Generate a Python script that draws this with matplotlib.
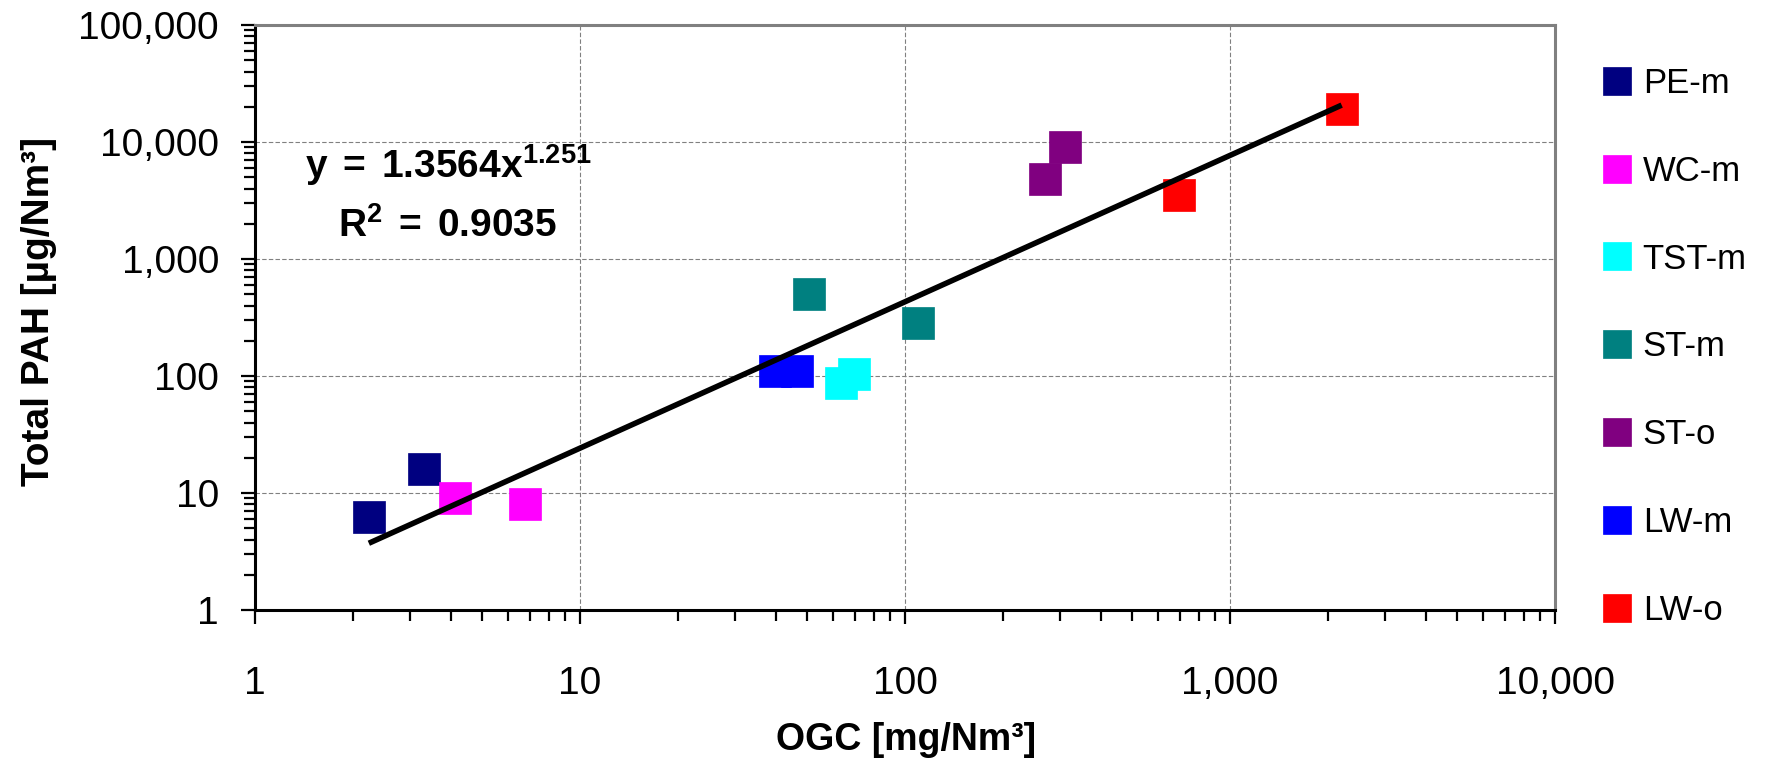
import numpy as np
import matplotlib
matplotlib.use("Agg")
import matplotlib.pyplot as plt
from matplotlib.ticker import FuncFormatter, LogLocator, NullFormatter

plt.rcParams['font.family'] = ['Liberation Sans', 'DejaVu Sans']
plt.rcParams['mathtext.fontset'] = 'custom'
plt.rcParams['mathtext.rm'] = 'Liberation Sans:bold'
plt.rcParams['mathtext.bf'] = 'Liberation Sans:bold'

# series (OGC mg/Nm3, total PAH ug/Nm3)
labels = ['PE-m', 'WC-m', 'TST-m', 'ST-m', 'ST-o', 'LW-m', 'LW-o']
colors = ['#000080', '#FF00FF', '#00FFFF', '#008080', '#800080', '#0000FF', '#FF0000']
ogc = [
    [2.24, 3.30],
    [4.13, 6.78],
    [63.7, 69.5],
    [50.8, 110.0],
    [270.0, 310.0],
    [39.7, 46.4],
    [697.0, 2206.0],
]
pah = [
    [6.2, 15.9],
    [9.1, 8.0],
    [87.0, 105.0],
    [500.0, 286.0],
    [4800.0, 9000.0],
    [111.0, 111.0],
    [3520.0, 19200.0],
]

# power trendline shown on the chart
fit_a = 1.3564
fit_b = 1.251
fit_r2 = 0.9035

fig = plt.figure(figsize=(17.77, 7.59), dpi=100)
ax = fig.add_axes([255/1777, 1 - 610/759, 1300/1777, 585/759])

for xs, ys, lab, col in zip(ogc, pah, labels, colors):
    ax.plot(xs, ys, ls='none', marker='s', ms=23, color=col,
            mec=col, mew=0.5, label=lab, zorder=3)

allx = np.concatenate([np.array(v) for v in ogc])
xt = np.logspace(np.log10(allx.min()), np.log10(allx.max()), 200)
ax.plot(xt, fit_a * xt ** fit_b, color='black', lw=4, zorder=4,
        solid_capstyle='butt')

ax.set_xscale('log')
ax.set_yscale('log')
ax.set_xlim(1, 10000)
ax.set_ylim(1, 100000)

fmt = FuncFormatter(lambda v, p: f'{v:,.0f}')
ax.xaxis.set_major_locator(LogLocator(base=10, numticks=10))
ax.yaxis.set_major_locator(LogLocator(base=10, numticks=10))
ax.xaxis.set_minor_locator(LogLocator(base=10, subs=np.arange(2, 10), numticks=20))
ax.yaxis.set_minor_locator(LogLocator(base=10, subs=np.arange(2, 10), numticks=20))
ax.xaxis.set_major_formatter(fmt)
ax.yaxis.set_major_formatter(fmt)
ax.xaxis.set_minor_formatter(NullFormatter())
ax.yaxis.set_minor_formatter(NullFormatter())

ax.tick_params(which='major', direction='out', length=10, width=1.6,
               labelsize=28, colors='black')
ax.tick_params(axis='x', which='major', pad=30)
ax.tick_params(axis='y', which='major', pad=16)
ax.tick_params(which='minor', direction='out', length=8, width=1.6)

ax.grid(True, which='major', color='#808080', lw=0.8, dashes=(4, 2))
ax.set_axisbelow(True)

for side in ['left', 'bottom']:
    ax.spines[side].set_linewidth(2.2)
    ax.spines[side].set_color('black')
for side in ['top', 'right']:
    ax.spines[side].set_linewidth(2.2)
    ax.spines[side].set_color('#808080')

fig.text(448/1777, 1 - 178/759, r'$\mathbf{y\:=\:1.3564x^{1.251}}$',
         fontsize=28, ha='center', va='baseline')
fig.text(448/1777, 1 - 237/759, r'$\mathbf{R^{2}\:=\:0.9035}$',
         fontsize=28, ha='center', va='baseline')

fig.text(39/1777, 1 - 311/759, 'Total PAH [µg/Nm³]', rotation=90,
         fontsize=28, fontweight='bold', ha='center', va='center')
fig.text(906/1777, 1 - 750/759, 'OGC [mg/Nm³]',
         fontsize=27, fontweight='bold', ha='center', va='baseline')

leg = fig.legend(loc='center left', bbox_to_anchor=(1601/1777, 1 - 347/759),
                 frameon=False, fontsize=25, markerscale=0.9,
                 handlelength=0.9, handletextpad=0.3, labelspacing=1.58,
                 borderpad=0, borderaxespad=0)

fig.savefig('out.png', dpi=100)
